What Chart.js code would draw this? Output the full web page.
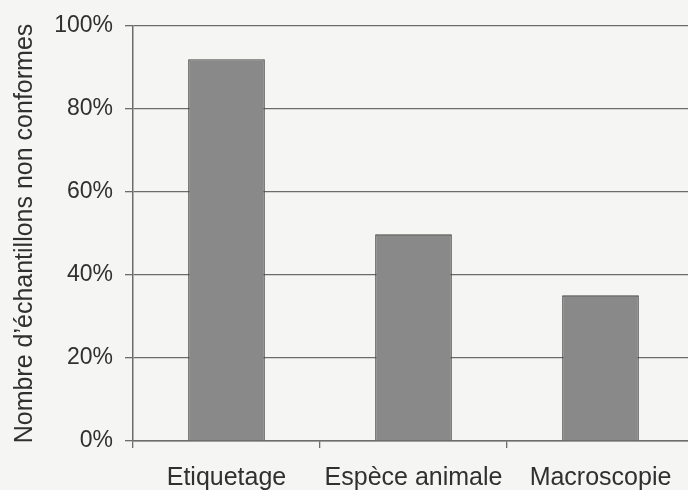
<!DOCTYPE html>
<html>
<head>
<meta charset="utf-8">
<script src="https://cdn.jsdelivr.net/npm/chart.js@4/dist/chart.umd.min.js"></script>
<style>
  html, body { margin: 0; padding: 0; background: #f5f5f4; overflow: hidden; }
  #wrap { position: relative; width: 700px; height: 500px; }
</style>
</head>
<body>
<div id="wrap"><canvas id="c"></canvas></div>
<script>
// Share of non-conforming samples per type of check
const categories = ['Etiquetage', 'Espèce animale', 'Macroscopie'];
const nonConformes = [92, 49.8, 35.1];
const yTicks = [0, 20, 40, 60, 80, 100];

const ink = '#303030';
const grid = '#6c6c6c';
const fontFamily = 'Liberation Sans, Arial, sans-serif';

new Chart(document.getElementById('c'), {
  type: 'bar',
  data: {
    labels: categories,
    datasets: [{
      data: nonConformes,
      backgroundColor: '#898989',
      borderColor: '#474747',
      borderWidth: 1.3,
      categoryPercentage: 0.82,
      barPercentage: 0.5
    }]
  },
  options: {
    responsive: true,
    maintainAspectRatio: false,
    animation: false,
    layout: { padding: { top: 26, right: 6, bottom: 0, left: 0 } },
    plugins: { legend: { display: false }, tooltip: { enabled: false } },
    scales: {
      x: {
        afterFit: (scale) => { scale.height = 59; },
        grid: {
          display: true,
          offset: true,
          drawOnChartArea: false,
          drawTicks: true,
          tickLength: 7,
          color: grid,
          lineWidth: 1.3
        },
        border: { display: true, color: grid, width: 1.5 },
        ticks: {
          color: ink,
          padding: 15,
          maxRotation: 0,
          font: { family: fontFamily, size: 25 }
        }
      },
      y: {
        min: 0,
        max: 100,
        afterFit: (scale) => { scale.width = 133; },
        afterBuildTicks: (scale) => { scale.ticks = yTicks.map(v => ({ value: v })); },
        grid: {
          color: grid,
          lineWidth: 1.3,
          drawTicks: true,
          tickLength: 8
        },
        border: { display: true, color: grid, width: 1.5 },
        ticks: {
          color: ink,
          padding: 12,
          callback: (v) => v + '%',
          font: { family: fontFamily, size: 23 }
        },
        title: {
          display: true,
          text: 'Nombre d\u2019échantillons non conformes',
          color: ink,
          padding: { top: 10, bottom: 0 },
          font: { family: fontFamily, size: 25 }
        }
      }
    }
  }
});
</script>
</body>
</html>
